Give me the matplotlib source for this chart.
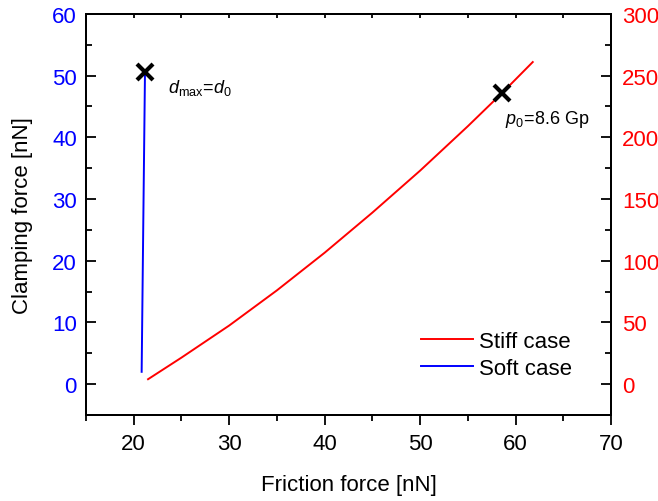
import numpy as np
import matplotlib.pyplot as plt
from matplotlib.ticker import MultipleLocator

plt.rcParams['font.family'] = ['Liberation Sans', 'DejaVu Sans']
plt.rcParams['mathtext.fontset'] = 'custom'
plt.rcParams['mathtext.it'] = 'Liberation Sans:italic'
plt.rcParams['mathtext.rm'] = 'Liberation Sans'

# stiff case: friction force [nN] vs clamping force (right axis)
stiff_friction = [21.5, 25, 30, 35, 40, 45, 50, 55, 58.6, 61.8]
stiff_clamp = [4, 21.5, 47.5, 76, 106.5, 139, 173, 209, 236, 261]

# soft case: friction force [nN] vs clamping force [nN] (left axis)
soft_friction = [20.83, 21.0, 21.18]
soft_clamp = [2.0, 26.0, 50.6]

# crosses marking the end points
soft_mark = (21.18, 50.6)
stiff_mark = (58.6, 236)

fs = 16

fig = plt.figure(figsize=(6.58, 5.02), dpi=100)
ax = fig.add_axes([0.1307, 0.1713, 0.7979, 0.7990])
ax2 = ax.twinx()

l_soft, = ax.plot(soft_friction, soft_clamp, color='#0000ff', lw=1.4)
l_stiff, = ax2.plot(stiff_friction, stiff_clamp, color='#ff0000', lw=1.4)

ax.plot(*soft_mark, marker='x', color='black', ms=12, mew=3, zorder=5)
ax2.plot(*stiff_mark, marker='x', color='black', ms=12, mew=3, zorder=5)

ax.text(23.6, 47.4, r'$d_{\mathrm{max}}\!=\!d_0$', fontsize=13)
ax2.text(58.9, 212, r'$p_0\!=\!$8.6 Gp', fontsize=13)

ax.set_xlim(15, 70)
ax.set_ylim(-5, 60)
ax2.set_ylim(-25, 300)

ax.xaxis.set_major_locator(MultipleLocator(10))
ax.xaxis.set_minor_locator(MultipleLocator(5))
ax.yaxis.set_major_locator(MultipleLocator(10))
ax.yaxis.set_minor_locator(MultipleLocator(5))
ax2.yaxis.set_major_locator(MultipleLocator(50))
ax2.yaxis.set_minor_locator(MultipleLocator(25))

ax.tick_params(axis='x', which='major', direction='out', length=7, width=1.3,
               labelsize=fs, pad=6)
ax.tick_params(axis='x', which='minor', direction='out', length=4, width=1.3)
ax.tick_params(axis='y', which='major', direction='in', length=7, width=1.3,
               labelsize=fs, labelcolor='#0000ff', pad=6.5)
ax.tick_params(axis='y', which='minor', direction='in', length=4, width=1.3)
ax2.tick_params(axis='y', which='major', direction='in', length=7, width=1.3,
                labelsize=fs, labelcolor='#ff0000', pad=8)
ax2.tick_params(axis='y', which='minor', direction='in', length=4, width=1.3)

# short inward ticks along the top edge
top = ax.secondary_xaxis('top')
top.xaxis.set_major_locator(MultipleLocator(10))
top.xaxis.set_minor_locator(MultipleLocator(5))
top.tick_params(which='both', direction='in', length=3, width=1.3, labeltop=False)

for a in (ax, ax2, top):
    for s in a.spines.values():
        s.set_linewidth(1.4)

ax.set_xlabel('Friction force [nN]', fontsize=fs, labelpad=14)
ax.set_ylabel('Clamping force [nN]', fontsize=fs, labelpad=14)

ax.legend([l_stiff, l_soft], ['Stiff case', 'Soft case'], loc='lower right',
          bbox_to_anchor=(0.926, 0.09), frameon=False, fontsize=fs,
          borderpad=0, borderaxespad=0,
          handlelength=2.36, handletextpad=0.27, labelspacing=0.28)

fig.savefig('out.png', dpi=100)
